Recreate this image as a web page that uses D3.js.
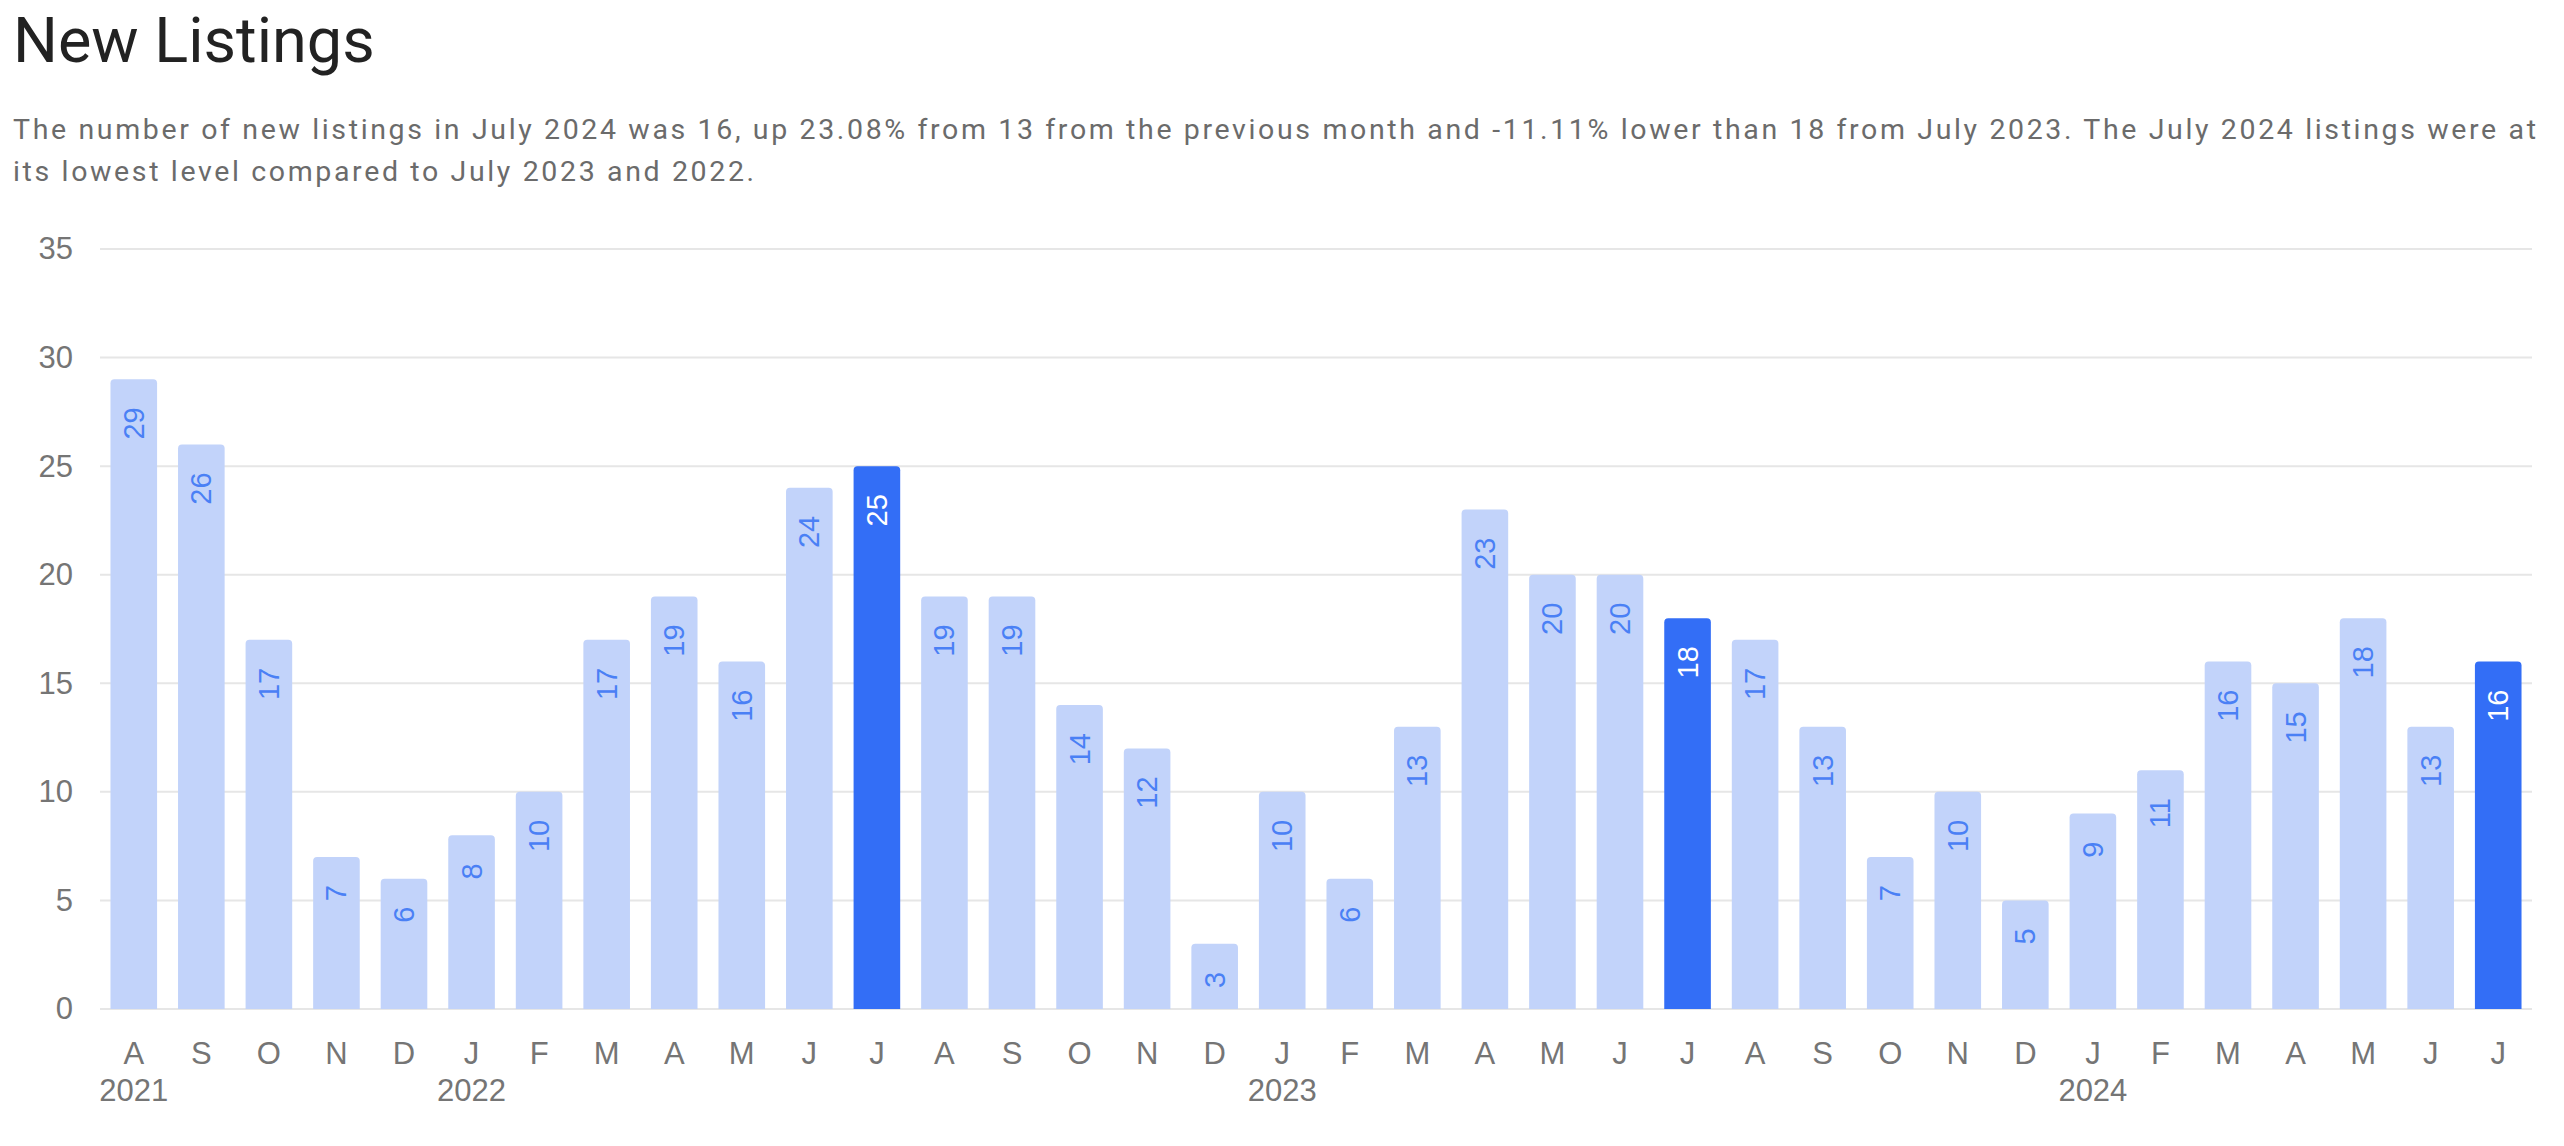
<!DOCTYPE html>
<html>
<head>
<meta charset="utf-8">
<script src="https://cdn.jsdelivr.net/npm/d3@7"></script>
<style>
  html, body { margin: 0; padding: 0; background: #fff; }
</style>
</head>
<body>
<svg id="chart" width="2564" height="1146"></svg>
<script>
const months = ["A","S","O","N","D","J","F","M","A","M","J","J","A","S","O","N","D","J","F","M","A","M","J","J","A","S","O","N","D","J","F","M","A","M","J","J"];
const years = ["2021","","","","","2022","","","","","","","","","","","","2023","","","","","","","","","","","","2024","","","","","",""];
const values = [29,26,17,7,6,8,10,17,19,16,24,25,19,19,14,12,3,10,6,13,23,20,20,18,17,13,7,10,5,9,11,16,15,18,13,16];
const highlighted = [11, 23, 35];
const yTicks = [0,5,10,15,20,25,30,35];
const title = "New Listings";
const subtitleLines = [
  "The number of new listings in July 2024 was 16, up 23.08% from 13 from the previous month and -11.11% lower than 18 from July 2023. The July 2024 listings were at",
  "its lowest level compared to July 2023 and 2022."
];

const svg = d3.select("#chart");
const plotLeft = 100, plotRight = 2532, plotTop = 249, plotBottom = 1009;
const textFont = "Roboto, 'Noto Sans', sans-serif";
const axisFont = "'Liberation Sans', Arial, Helvetica, sans-serif";

svg.append("text").attr("x", 13).attr("y", 62)
  .style("font-family", textFont)
  .attr("font-size", 63).attr("fill", "#222").text(title);

const subs = svg.selectAll("text.sub").data(subtitleLines).join("text")
  .attr("class", "sub")
  .style("font-family", textFont)
  .attr("x", 13).attr("y", (d, i) => 139 + i * 42)
  .attr("font-size", 28.5).attr("fill", "#6b6b6b").text(d => d);
const firstSub = subs.nodes()[0];
const L = firstSub.getComputedTextLength();
const ls = (2523 - L) / (subtitleLines[0].length - 1);
subs.attr("letter-spacing", ls);

const idx = values.map((d, i) => i);
const x = d3.scaleBand().domain(idx).range([plotLeft, plotRight]).paddingInner(0.31).paddingOuter(0.155);
const y = d3.scaleLinear().domain([0, 35]).range([plotBottom, plotTop]);

// gridlines
svg.append("g").selectAll("line").data(yTicks).join("line")
  .attr("x1", plotLeft).attr("x2", plotRight)
  .attr("y1", d => y(d)).attr("y2", d => y(d))
  .attr("stroke", "#e6e6e6").attr("stroke-width", 2);

// y axis labels
const yAxis = d3.axisLeft(y).tickValues(yTicks).tickSize(0).tickPadding(0);
const yg = svg.append("g").attr("transform", `translate(73,0)`).call(yAxis);
yg.select(".domain").remove();
yg.selectAll("text").attr("font-size", 31).attr("fill", "#757575")
  .style("font-family", axisFont);

// bars
const r = 4;
function barPath(i) {
  const x0 = x(i), w = x.bandwidth(), y0 = y(values[i]), yb = y(0);
  return `M${x0},${yb}V${y0 + r}Q${x0},${y0} ${x0 + r},${y0}H${x0 + w - r}Q${x0 + w},${y0} ${x0 + w},${y0 + r}V${yb}Z`;
}
svg.append("g").selectAll("path").data(idx).join("path")
  .attr("d", barPath)
  .attr("fill", i => highlighted.includes(i) ? "#336ef6" : "#c2d3fa");

// value labels
svg.append("g").selectAll("text").data(idx).join("text")
  .attr("transform", i => `translate(${x(i) + x.bandwidth() / 2},${y(values[i]) + 28}) rotate(-90)`)
  .attr("text-anchor", "end")
  .attr("dominant-baseline", "central")
  .attr("font-size", 29)
  .style("font-family", axisFont)
  .attr("fill", i => highlighted.includes(i) ? "#ffffff" : "#4a80f5")
  .text(i => values[i]);

// x axis month labels
const xAxis = d3.axisBottom(x).tickSize(0).tickPadding(0).tickFormat(i => months[i]);
const xg = svg.append("g").attr("transform", `translate(0,${plotBottom})`).call(xAxis);
xg.select(".domain").remove();
xg.selectAll("text").attr("font-size", 31).attr("fill", "#757575")
  .style("font-family", axisFont).attr("dy", null).attr("y", 55);

// year labels
svg.append("g").selectAll("text").data(idx.filter(i => years[i])).join("text")
  .attr("x", i => x(i) + x.bandwidth() / 2).attr("y", 1101)
  .attr("text-anchor", "middle").attr("font-size", 31).attr("fill", "#757575")
  .style("font-family", axisFont)
  .text(i => years[i]);
</script>
</body>
</html>
